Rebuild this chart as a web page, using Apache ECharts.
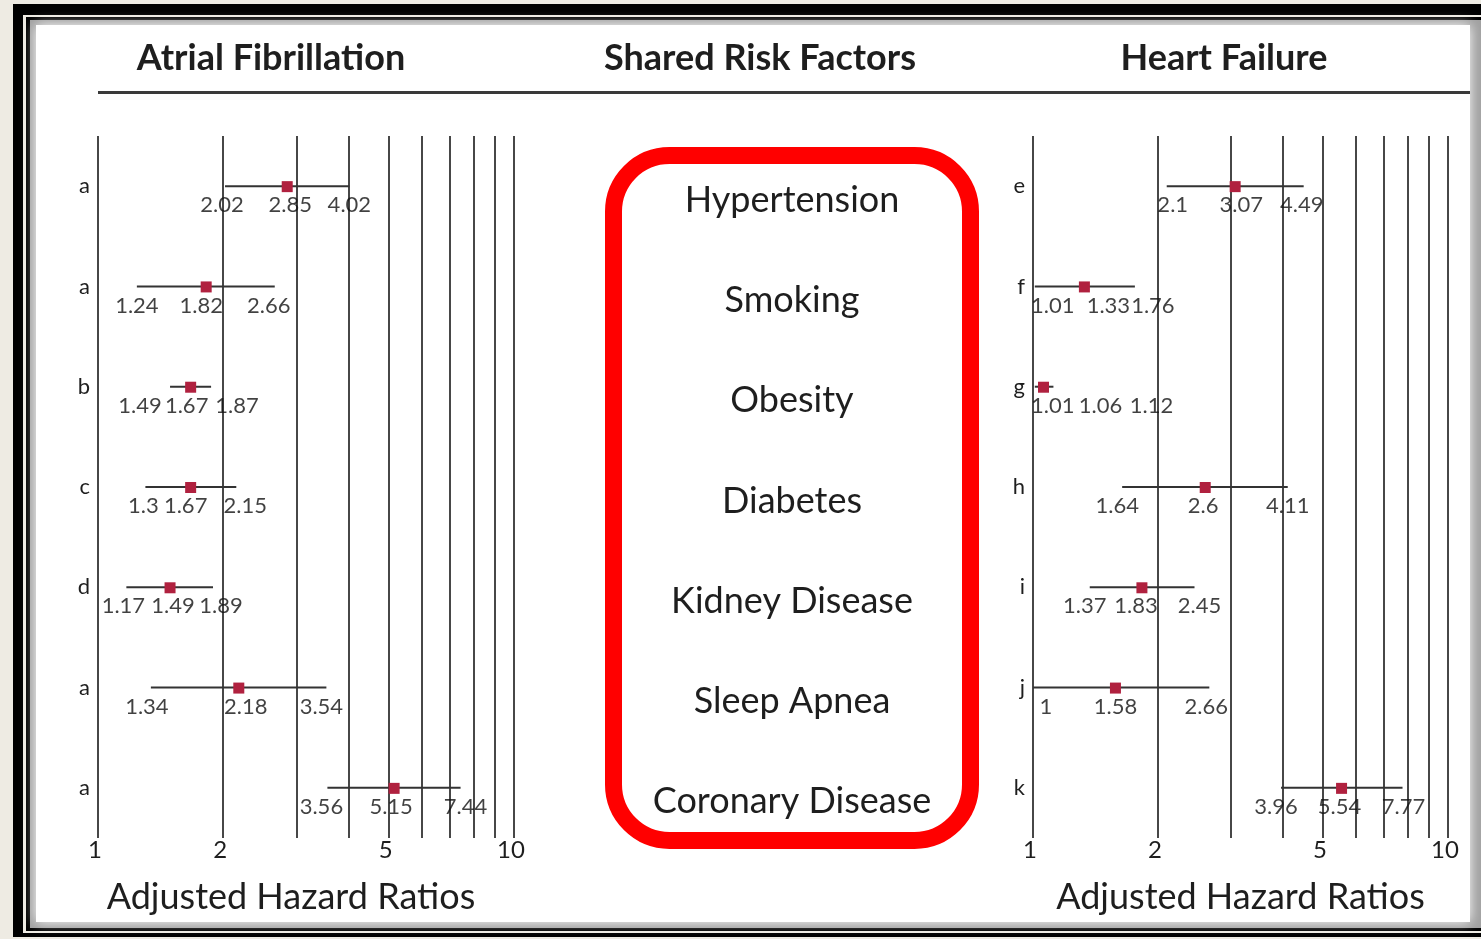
<!DOCTYPE html>
<html>
<head>
<meta charset="utf-8">
<script src="https://cdn.jsdelivr.net/npm/echarts@6/dist/echarts.min.js"></script>
<style>
html, body { margin: 0; padding: 0; background: #eeebe3; }
#chart { width: 1481px; height: 939px; }
</style>
</head>
<body>
<div id="chart"></div>
<script>
// risk factors, top to bottom
const riskFactors = ['Hypertension', 'Smoking', 'Obesity', 'Diabetes', 'Kidney Disease', 'Sleep Apnea', 'Coronary Disease']

// atrial fibrillation: lower CI, hazard ratio, upper CI
const afLetters = ['a', 'a', 'b', 'c', 'd', 'a', 'a']
const afLower = [2.02, 1.24, 1.49, 1.3, 1.17, 1.34, 3.56]
const afHR = [2.85, 1.82, 1.67, 1.67, 1.49, 2.18, 5.15]
const afUpper = [4.02, 2.66, 1.87, 2.15, 1.89, 3.54, 7.44]

// heart failure
const hfLetters = ['e', 'f', 'g', 'h', 'i', 'j', 'k']
const hfLower = [2.1, 1.01, 1.01, 1.64, 1.37, 1, 3.96]
const hfHR = [3.07, 1.33, 1.06, 2.6, 1.83, 1.58, 5.54]
const hfUpper = [4.49, 1.76, 1.12, 4.11, 2.45, 2.66, 7.77]

// log axis
const gridValues = [1, 2, 3, 4, 5, 6, 7, 8, 9, 10]
const tickLabels = [1, 2, 5, 10]

// sideways nudges (px) so the numbers under each bar don't run into each other
const afNudge = [[-3, 3, 0], [0, -5, -6], [-30, -4, 26], [-2, -5, 9], [-3, 3, 8], [-4, 7, -5], [-6, -3, 5]]
const hfNudge = [[6, 6, -2], [18, 24, 18], [18, 57, 98], [-5, -2, 0], [-5, -6, 5], [13, 0, -3], [-5, -2, 1]]

const FONT = 'Lato'
const TEXT = '#1e1e1e'
const CREAM = '#eeebe3'

const chart = echarts.init(document.getElementById('chart'))

//误差线 + 方块
const renderCI = (params, api) => {
    const row = api.value(0)
    const a = api.coord([api.value(1), row])
    const m = api.coord([api.value(2), row])
    const b = api.coord([api.value(3), row])
    return {
        type: 'group',
        children: [
            { type: 'line', shape: { x1: a[0], y1: a[1], x2: b[0], y2: b[1] }, style: { stroke: '#333', lineWidth: 2 } },
            { type: 'rect', shape: { x: m[0] - 5.5, y: m[1] - 5, width: 11, height: 11 }, style: { fill: '#b0213f' } }
        ]
    }
}

const ciData = (lo, hr, hi) => lo.map((v, i) => [i, v, hr[i], hi[i]])

const labelData = (lo, hr, hi, nudge) => {
    const out = []
    lo.forEach((v, i) => {
        [v, hr[i], hi[i]].forEach((x, k) => {
            out.push({ value: [x, i], label: { offset: [nudge[i][k], 19] } })
        })
    })
    return out
}

const forestSeries = (idx, lo, hr, hi, nudge) => [
    {
        type: 'custom',
        xAxisIndex: idx,
        yAxisIndex: idx,
        renderItem: renderCI,
        encode: { x: [1, 2, 3], y: 0 },
        data: ciData(lo, hr, hi),
        z: 5,
        silent: true,
        markLine: {
            silent: true,
            symbol: 'none',
            label: { show: false },
            lineStyle: { color: '#474747', width: 2, type: 'solid' },
            data: gridValues.map(v => ({ xAxis: v }))
        }
    },
    {
        type: 'scatter',
        xAxisIndex: idx,
        yAxisIndex: idx,
        symbolSize: 0,
        silent: true,
        z: 6,
        data: labelData(lo, hr, hi, nudge),
        label: {
            show: true,
            position: 'inside',
            formatter: p => String(p.value[0]),
            fontFamily: FONT,
            fontSize: 22,
            color: '#111'
        }
    }
]

const logAxis = (idx, namePad) => ({
    type: 'log',
    logBase: 10,
    gridIndex: idx,
    min: 1,
    max: 10,
    axisLine: { show: false },
    axisTick: { show: false },
    splitLine: { show: false },
    minorSplitLine: { show: false },
    axisLabel: {
        customValues: tickLabels,
        fontFamily: FONT,
        fontSize: 24,
        color: TEXT,
        margin: 0,
        padding: [0, 6, 0, 0]
    },
    name: 'Adjusted Hazard Ratios',
    nameLocation: 'middle',
    nameGap: 41,
    nameTextStyle: { fontFamily: FONT, fontSize: 36, color: TEXT, padding: namePad }
})

const letterAxis = (idx, letters) => ({
    type: 'category',
    gridIndex: idx,
    data: riskFactors,
    inverse: true,
    axisLine: { show: false },
    axisTick: { show: false },
    axisLabel: {
        interval: 0,
        formatter: (v, i) => letters[i],
        fontFamily: FONT,
        fontSize: 22,
        color: TEXT,
        margin: 8
    }
})

const titleText = (x, text) => ({
    type: 'text', z: 10, x: x, y: 58,
    style: { text: text, fontFamily: FONT, fontWeight: 'bold', fontSize: 36, fill: TEXT, align: 'center', verticalAlign: 'middle' }
})

const option = {
    backgroundColor: CREAM,
    animation: false,
    graphic: [
        // 外框
        { type: 'rect', z: -10, shape: { x: 13, y: 4, width: 1500, height: 933 }, style: { fill: '#000' } },
        { type: 'rect', z: -10, shape: { x: 23, y: 15, width: 1500, height: 918 }, style: { fill: CREAM } },
        { type: 'rect', z: -10, shape: { x: 26, y: 17, width: 1500, height: 914 }, style: { fill: '#000' } },
        { type: 'rect', z: -10, shape: { x: 30, y: 20, width: 1500, height: 908 }, style: { fill: '#a0a0a0' } },
        { type: 'rect', z: -9, shape: { x: 36, y: 25, width: 1434, height: 897 }, style: { fill: '#fff', shadowBlur: 12, shadowColor: '#fff' } },
        // 标题
        titleText(271, 'Atrial Fibrillation'),
        titleText(760, 'Shared Risk Factors'),
        titleText(1224, 'Heart Failure'),
        { type: 'line', z: 10, shape: { x1: 98, y1: 92.5, x2: 1470, y2: 92.5 }, style: { stroke: '#3a3a3a', lineWidth: 3 } },
        // 红框
        { type: 'rect', z: 10, shape: { x: 613.5, y: 155.5, width: 357, height: 685, r: 56 }, style: { fill: 'transparent', stroke: '#ff0000', lineWidth: 17 } }
    ],
    grid: [
        { left: 98, width: 416, top: 136, height: 702 },
        { left: 1033, width: 415, top: 136, height: 702 },
        { left: 622, width: 340, top: 150, height: 702 }
    ],
    xAxis: [
        logAxis(0, [0, 30, 0, 0]),
        logAxis(1, [0, 0, 0, 0]),
        { type: 'value', gridIndex: 2, show: false }
    ],
    yAxis: [
        letterAxis(0, afLetters),
        letterAxis(1, hfLetters),
        {
            type: 'category',
            gridIndex: 2,
            data: riskFactors,
            inverse: true,
            axisLine: { show: false },
            axisTick: { show: false },
            axisLabel: {
                interval: 0,
                align: 'center',
                margin: -170,
                fontFamily: FONT,
                fontSize: 36,
                color: TEXT
            }
        }
    ],
    series: [
        ...forestSeries(0, afLower, afHR, afUpper, afNudge),
        ...forestSeries(1, hfLower, hfHR, hfUpper, hfNudge)
    ]
}
chart.setOption(option)
</script>
</body>
</html>
